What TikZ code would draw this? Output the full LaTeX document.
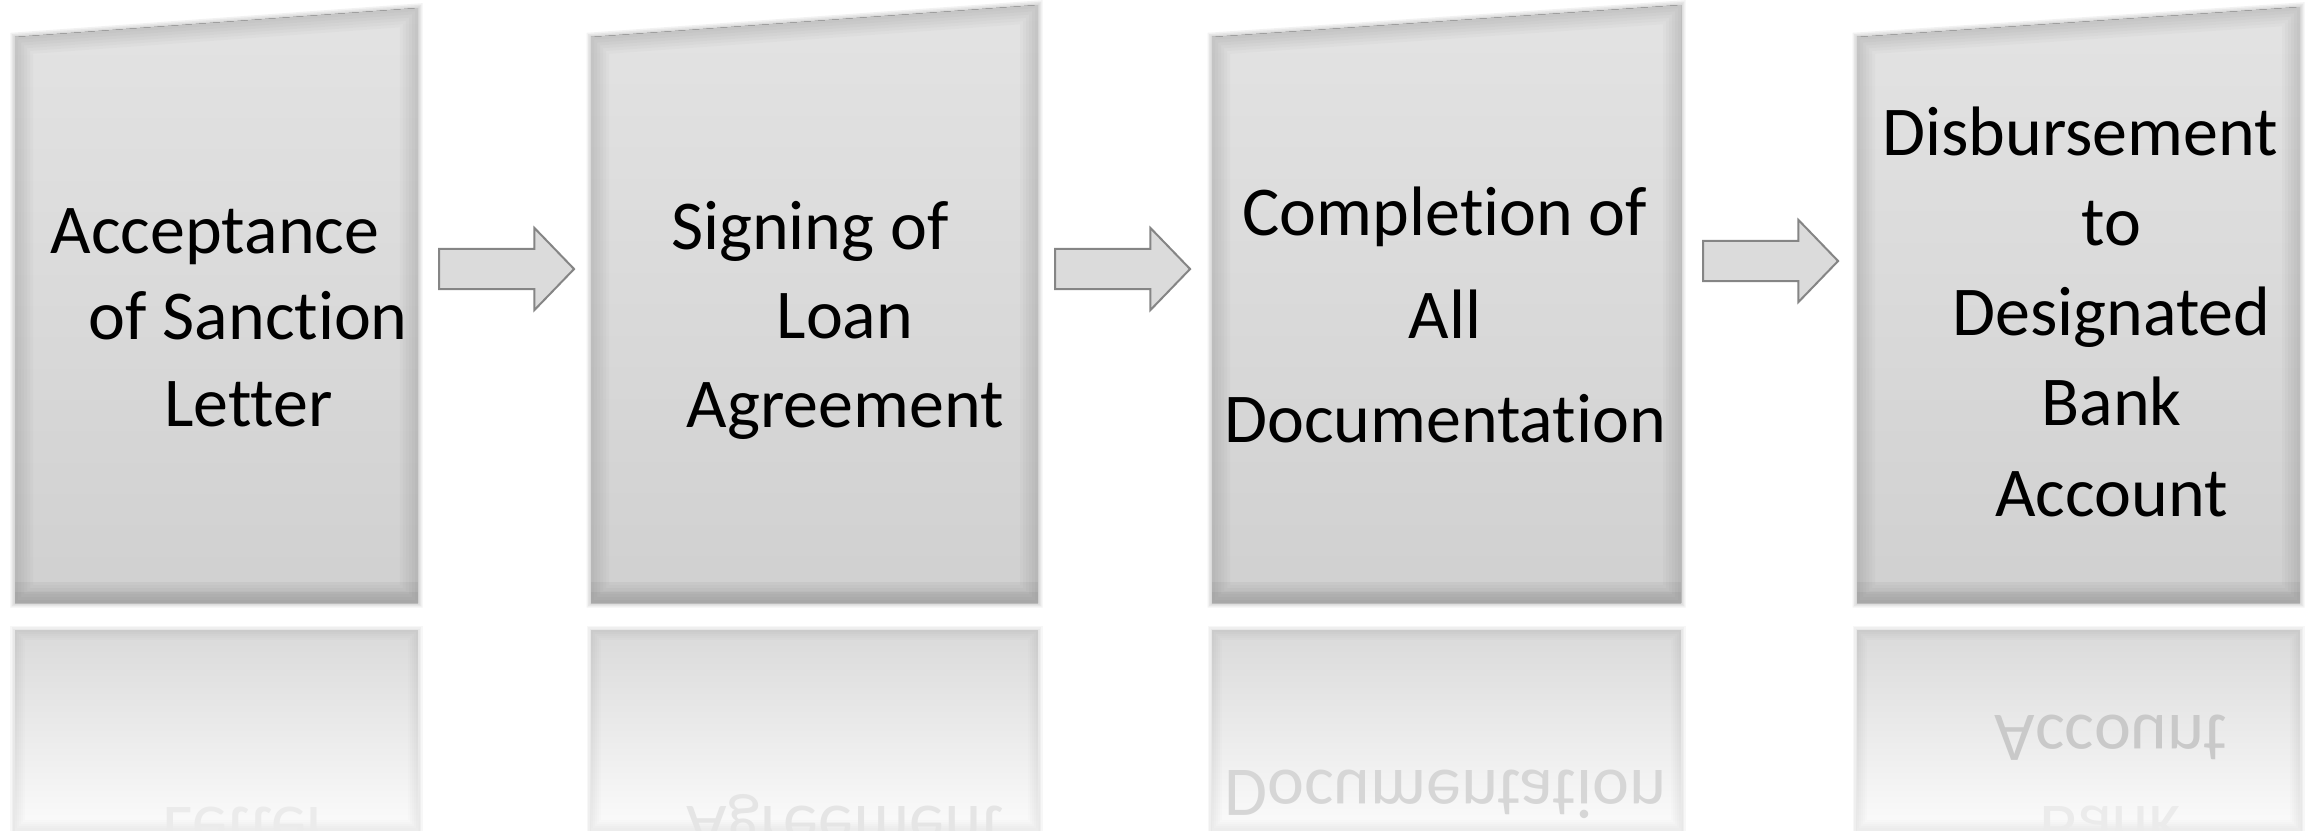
\documentclass[tikz,border=0pt]{standalone}
\usepackage{fontspec}
\setmainfont{Carlito}[Ligatures=NoCommon]
\usepackage{graphicx}
\usepackage{xcolor}
\usepackage{tikz}
\usetikzlibrary{shapes.arrows}

\definecolor{cardtop}{HTML}{E3E3E3}
\definecolor{cardbot}{HTML}{D0D0D0}
\definecolor{mirrtop}{HTML}{DADADA}
\definecolor{mirrbot}{HTML}{FBFBFB}
\definecolor{arrfill}{HTML}{DBDBDB}
\definecolor{arrline}{HTML}{858585}

\tikzset{
    card/.style={top color=cardtop, bottom color=cardbot},
    mirror/.style={top color=mirrtop, bottom color=mirrbot},
    txt/.style={font=\fontsize{19.9pt}{#1}\selectfont, align=center, anchor=base, inner sep=0pt},
    mtxt/.style={font=\fontsize{19.9pt}{24pt}\selectfont, anchor=base, inner sep=0pt, text=#1},
    blkarrow/.style={single arrow, draw=arrline, fill=arrfill, line width=0.2mm,
                minimum height=1.35cm, inner xsep=0pt, inner ysep=0.19cm,
                single arrow head extend=0.21cm, single arrow tip angle=92, anchor=tail},
}

\begin{document}
\begin{tikzpicture}[x=0.01cm, y=-0.01cm]
    \useasboundingbox (0,0) rectangle (2315,830);
    \clip (0,0) rectangle (2315,830);
    % cards with soft edges, and their mirror images below
    \foreach \xl/\xr/\tl/\tr in {15/418/37/8, 591/1038/37/5, 1212/1681/37/5, 1857/2300/37/7}{
        \foreach \w in {3,6,9}
            \draw[black, opacity=0.03, line width=\w*0.1mm] (\xl,630) rectangle (\xr,830);
        \begin{scope}
            \clip (\xl,630) rectangle (\xr,830);
            \fill[mirror] (\xl,630) rectangle (\xr,830);
            \foreach \w in {4,8,...,20}
                \draw[black, opacity=0.012, line width=\w*0.1mm] (\xl,630) rectangle (\xr,830);
        \end{scope}
        \foreach \w in {3,6,9}
            \draw[black, opacity=0.05, line width=\w*0.1mm] (\xl,603) -- (\xr,603) -- (\xr,\tr) -- (\xl,\tl) -- cycle;
        \begin{scope}
            \clip (\xl,603) -- (\xr,603) -- (\xr,\tr) -- (\xl,\tl) -- cycle;
            \fill[card] (\xl,603) -- (\xr,603) -- (\xr,\tr) -- (\xl,\tl) -- cycle;
            \foreach \w in {6,12,...,36}
                \draw[black, opacity=0.018, line width=\w*0.1mm] (\xl,603) -- (\xr,603) -- (\xr,\tr) -- (\xl,\tl) -- cycle;
            \fill[black, opacity=0.04] (\xl,582) rectangle (\xr,603);
            \fill[black, opacity=0.04] (\xl,592) rectangle (\xr,603);
        \end{scope}
    }

    \node[txt=24.5pt] (b1) at (215,426) {Acceptance\\\hspace*{0.95em}of Sanction\\\hspace*{0.95em}Letter};
    \node[txt=25.3pt] (b2) at (810,427) {Signing of\\\hspace*{1em}Loan\\\hspace*{1em}Agreement};
    \node[txt=29.3pt] (b3) at (1445,442) {Completion of\\All\\Documentation};
    \node[txt=25.6pt] (b4) at (2080,516) {Disbursement\\\hspace*{0.9em}to\\\hspace*{0.9em}Designated\\\hspace*{0.9em}Bank\\\hspace*{0.9em}Account};

    \node[blkarrow] (arr1) at (438,269) {};
    \node[blkarrow] (arr2) at (1054,269) {};
    \node[blkarrow] (arr3) at (1702,261) {};

    \node[mtxt=black!8] (m1) at (247,807) {\scalebox{1}[-1]{Letter}};
    \node[mtxt=black!10] (m2) at (845,806) {\scalebox{1}[-1]{Agreement}};
    \node[mtxt=black!16] (m3) at (1445,770) {\scalebox{1}[-1]{Documentation}};
    \node[mtxt=black!21] (m4) at (2111,715) {\scalebox{1}[-1]{Account}};
    \node[mtxt=black!8] (m5) at (2110,806) {\scalebox{1}[-1]{Bank}};
\end{tikzpicture}
\end{document}
